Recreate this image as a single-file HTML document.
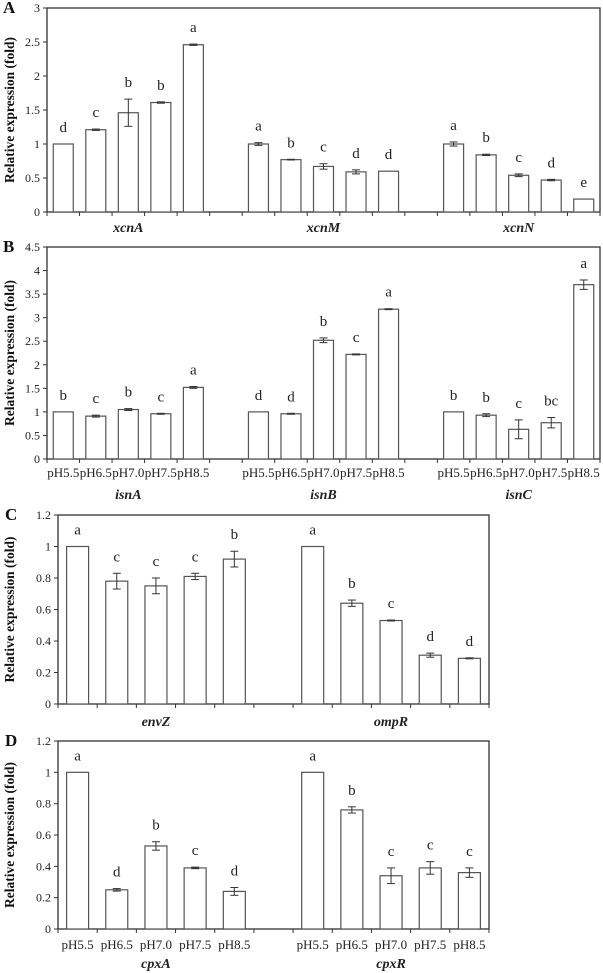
<!DOCTYPE html>
<html><head><meta charset="utf-8"><style>
body{margin:0;background:#fff;}
svg{display:block;font-family:"Liberation Serif",serif;}
</style></head><body>
<svg id="fig" width="603" height="973" viewBox="0 0 603 973" xmlns="http://www.w3.org/2000/svg"></svg>
<script>
// Panel A
const genesA = ["xcnA","xcnM","xcnN"];
const valsA = [[1,1.21,1.46,1.61,2.46],[1,0.77,0.67,0.59,0.6],[1,0.84,0.54,0.47,0.19]];
const errsA = [[0,0.01,0.2,0.01,0.01],[0.02,0.005,0.04,0.03,0],[0.03,0.01,0.02,0.01,0]];
const letsA = [["d","c","b","b","a"],["a","b","c","d","d"],["a","b","c","d","e"]];
const ticksA = ["0","0.5","1","1.5","2","2.5","3"];
// Panel B
const genesB = ["isnA","isnB","isnC"];
const valsB = [[1,0.91,1.05,0.96,1.52],[1,0.96,2.52,2.22,3.18],[1,0.93,0.63,0.77,3.7]];
const errsB = [[0,0.02,0.02,0.01,0.02],[0,0.01,0.05,0.01,0.01],[0,0.03,0.2,0.11,0.1]];
const letsB = [["b","c","b","c","a"],["d","d","b","c","a"],["b","b","c","bc","a"]];
const ticksB = ["0","0.5","1","1.5","2","2.5","3","3.5","4","4.5"];
// Panel C
const genesC = ["envZ","ompR"];
const valsC = [[1,0.78,0.75,0.81,0.92],[1,0.64,0.53,0.31,0.29]];
const errsC = [[0,0.05,0.05,0.02,0.05],[0,0.02,0.003,0.013,0.003]];
const letsC = [["a","c","c","c","b"],["a","b","c","d","d"]];
const ticksC = ["0","0.2","0.4","0.6","0.8","1","1.2"];
// Panel D
const genesD = ["cpxA","cpxR"];
const valsD = [[1,0.25,0.53,0.39,0.24],[1,0.76,0.34,0.39,0.36]];
const errsD = [[0,0.008,0.027,0.005,0.025],[0,0.02,0.05,0.04,0.03]];
const letsD = [["a","d","b","c","d"],["a","b","c","c","c"]];
const ticksD = ["0","0.2","0.4","0.6","0.8","1","1.2"];
const phLabels = ["pH5.5","pH6.5","pH7.0","pH7.5","pH8.5"];

const NS="http://www.w3.org/2000/svg";
const svg=document.getElementById('fig');
function mk(tag,attrs,parent,text){const e=document.createElementNS(NS,tag);for(const k in attrs)e.setAttribute(k,attrs[k]);if(text!==undefined)e.textContent=text;(parent||svg).appendChild(e);return e;}

function panel(cfg){
  const g=mk('g',{});
  
  
  const {x0,x1,yTop,y0,ymax,genes,vals,errs,lets,ticks,bw,ph}=cfg;
  const nslots=genes.length*6-1;
  const step=(x1-x0)/nslots;
  const xs=s=>x0+step*(s+0.5);
  const ys=v=>y0-(v/ymax)*(y0-yTop);
  // frame
  const fr=mk('rect',{x:x0,y:yTop,width:x1-x0,height:y0-yTop,fill:'none',stroke:'#333','stroke-width':1.3},g);
  
  
  // y ticks
  ticks.forEach((t,i)=>{
    const v=parseFloat(t);const y=ys(v);
    mk('line',{x1:x0-4,x2:x0,y1:y,y2:y,stroke:'#333'},g);
    const tl=mk('text',{x:x0-7,y:y+4,'text-anchor':'end','font-size':12,fill:'#222'},g,t);
    
    
  });
  // x ticks
  for(let s=0;s<=nslots;s++){const x=x0+step*s;mk('line',{x1:x,x2:x,y1:y0,y2:y0+4,stroke:'#333'},g);}
  genes.forEach((gn,gi)=>{
    vals[gi].forEach((v,i)=>{
      const s=gi*6+i;const cx=xs(s);
      const b=mk('rect',{x:cx-bw/2,y:ys(v),width:bw,height:y0-ys(v),fill:'#fff',stroke:'#555','stroke-width':1.2},g);
      
      
      const e=errs[gi][i];let top=ys(v);
      if(e>0){
        const yt=ys(v+e),yb=ys(v-e);top=yt;
        mk('line',{x1:cx,x2:cx,y1:yt,y2:yb,stroke:'#333'},g);
        mk('line',{x1:cx-4,x2:cx+4,y1:yt,y2:yt,stroke:'#333'},g);
        mk('line',{x1:cx-4,x2:cx+4,y1:yb,y2:yb,stroke:'#333'},g);
      }
      const lt=mk('text',{x:cx,y:top-12,'text-anchor':'middle','font-size':15,fill:'#222'},g,lets[gi][i]);
      
      
      if(ph){
        const pl=mk('text',{x:cx,y:cfg.phY,'text-anchor':'middle','font-size':13,fill:'#222'},g,phLabels[i]);
        
        
      }
    });
    const gc=(xs(gi*6)+xs(gi*6+4))/2;
    const gl=mk('text',{x:gc,y:cfg.geneY,'text-anchor':'middle','font-size':14,'font-weight':'bold','font-style':'italic',fill:'#222'},g,gn);
    
    
  });
  const pl=mk('text',{x:cfg.letX,y:yTop+5,'font-size':17,'font-weight':'bold',fill:'#111'},g,cfg.id);
  
  
  const ym=(yTop+y0)/2;
  const yt=mk('text',{x:0,y:0,transform:`translate(${cfg.titleX},${ym}) rotate(-90)`,'text-anchor':'middle','font-size':13.5,'font-weight':'bold',fill:'#111'},g,'Relative expression (fold)');
  
  
}
panel({id:'A',x0:47,x1:600,yTop:8,y0:212,ymax:3,genes:genesA,vals:valsA,errs:errsA,lets:letsA,ticks:ticksA,bw:20,ph:false,geneY:232,letX:3,titleX:14});
panel({id:'B',x0:47,x1:600,yTop:247,y0:459,ymax:4.5,genes:genesB,vals:valsB,errs:errsB,lets:letsB,ticks:ticksB,bw:20,ph:true,phY:477,geneY:499,letX:3,titleX:14});
panel({id:'C',x0:58,x1:489,yTop:515,y0:704,ymax:1.2,genes:genesC,vals:valsC,errs:errsC,lets:letsC,ticks:ticksC,bw:22,ph:false,geneY:726,letX:5,titleX:14});
panel({id:'D',x0:58,x1:489,yTop:741,y0:929,ymax:1.2,genes:genesD,vals:valsD,errs:errsD,lets:letsD,ticks:ticksD,bw:22,ph:true,phY:949,geneY:968,letX:5,titleX:14});
</script>
</body></html>
